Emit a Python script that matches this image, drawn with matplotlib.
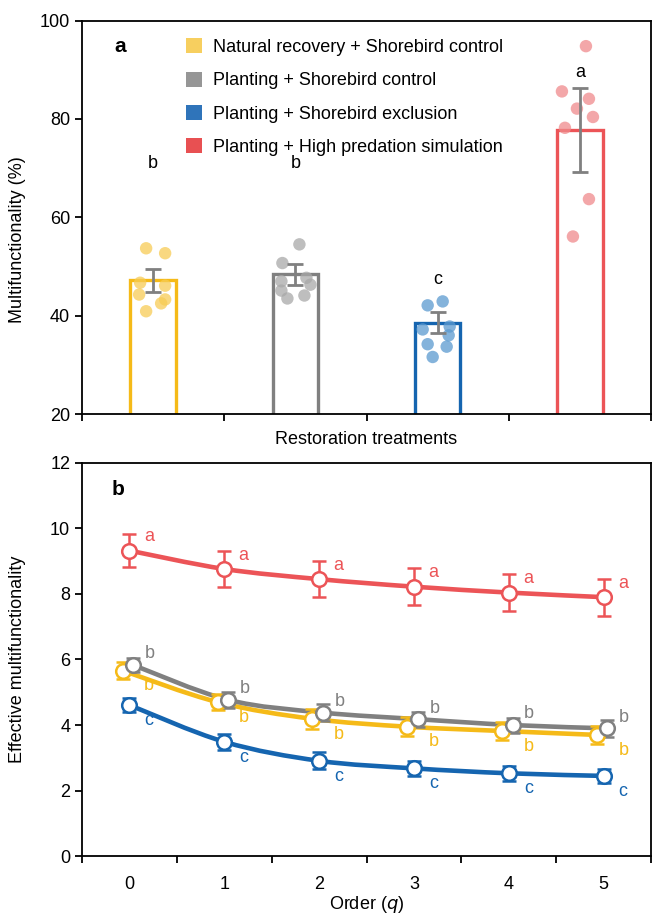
import numpy as np
import matplotlib.pyplot as plt
from matplotlib.patches import Patch, PathPatch
from matplotlib.path import Path

plt.rcParams['font.family'] = ['Liberation Sans', 'DejaVu Sans']

# ---- data: panel a ----
treatments = ['Natural recovery + Shorebird control',
              'Planting + Shorebird control',
              'Planting + Shorebird exclusion',
              'Planting + High predation simulation']
bar_means = [47.2, 48.4, 38.6, 77.7]
bar_se = [2.3, 2.2, 2.1, 8.5]
sig_a = ['b', 'b', 'c', 'a']
sig_a_y = [71.0, 71.0, 47.3, 89.5]
points_nat = [53.7, 52.7, 46.7, 46.1, 44.3, 43.3, 42.5, 40.9]
points_pl_ctrl = [54.5, 50.7, 47.0, 47.7, 46.3, 45.1, 43.5, 44.1]
points_pl_excl = [42.1, 42.9, 37.2, 37.8, 36.0, 34.2, 33.7, 31.6]
points_pl_pred = [94.8, 85.6, 84.1, 82.1, 80.4, 78.2, 63.7, 56.1]

# ---- data: panel b ----
orders = [0, 1, 2, 3, 4, 5]
eff_nat = [5.66, 4.70, 4.19, 3.95, 3.82, 3.70]
eff_nat_se = [0.25, 0.25, 0.30, 0.29, 0.28, 0.28]
eff_pl_ctrl = [5.83, 4.77, 4.38, 4.18, 4.00, 3.90]
eff_pl_ctrl_se = [0.22, 0.24, 0.26, 0.23, 0.23, 0.25]
eff_pl_excl = [4.61, 3.49, 2.91, 2.68, 2.53, 2.45]
eff_pl_excl_se = [0.22, 0.25, 0.26, 0.23, 0.23, 0.21]
eff_pl_pred = [9.32, 8.76, 8.45, 8.22, 8.04, 7.90]
eff_pl_pred_se = [0.51, 0.56, 0.55, 0.56, 0.56, 0.56]
sig_b = ['b', 'b', 'c', 'a']

# ---- style ----
edge_cols = ['#F5BA18', '#808080', '#1565B0', '#EC5457']
dot_cols = ['#F7CC55', '#A8A8A8', '#5B9AD0', '#F08A8C']
legend_cols = ['#F7CF5F', '#969696', '#2F74BA', '#E85052']
# horizontal jitter of the dots (pixels in the reference, 142 px per category)
jitter_px = [[-7, 12, -13, 12, -14, 12, 8, -7],
             [4, -13, -14, 11, 15, -14, -8, 9],
             [-10, 5, -15, 12, 11, -10, 9, -5],
             [6, -18, 9, -3, 13, -15, 9, -7]]
x_shift_b = [-0.07, 0.04, 0.0, 0.0]
label_off_b = [(19, -11), (12, 8), (14, -11), (14, 10)]
FS = 13


def smooth_path(xs, ys):
    # Excel-like smoothed line (cubic Bezier through the points)
    pts = np.column_stack([xs, ys]).astype(float)
    n = len(pts)
    verts = [pts[0]]
    codes = [Path.MOVETO]
    for i in range(n - 1):
        p0 = pts[i - 1] if i > 0 else pts[i]
        p1 = pts[i]
        p2 = pts[i + 1]
        p3 = pts[i + 2] if i + 2 < n else pts[i + 1]
        c1 = p1 + (p2 - p0) / 6.0
        c2 = p2 - (p3 - p1) / 6.0
        verts += [c1, c2, p2]
        codes += [Path.CURVE4] * 3
    return Path(verts, codes)


fig = plt.figure(figsize=(6.56, 9.15), dpi=100)
ax1 = fig.add_axes([0.125, 0.5475, 0.8675, 0.43])
ax2 = fig.add_axes([0.125, 0.0642, 0.8675, 0.4301])

# ---- panel a ----
xpos = np.arange(len(treatments))
ax1.bar(xpos, bar_means, width=0.32, bottom=0, facecolor='white',
        edgecolor=edge_cols, linewidth=2.4, zorder=2)
all_points = [points_nat, points_pl_ctrl, points_pl_excl, points_pl_pred]
for i, pts in enumerate(all_points):
    xs = i + np.array(jitter_px[i]) / 142.2
    ax1.scatter(xs, pts, s=80, color=dot_cols[i], alpha=0.75,
                edgecolors='none', zorder=3)
ax1.errorbar(xpos, bar_means, yerr=bar_se, fmt='none', ecolor='#808080',
             elinewidth=2, capsize=5.5, capthick=2, zorder=4)
for i, s in enumerate(sig_a):
    ax1.text(i, sig_a_y[i], s, ha='center', va='center', fontsize=FS)

ax1.set_xlim(-0.5, 3.5)
ax1.set_ylim(20, 100)
ax1.set_yticks([20, 40, 60, 80, 100])
ax1.set_xticks(np.arange(-0.5, 4.0, 1.0))
ax1.set_xticklabels([])
ax1.set_ylabel('Multifunctionality (%)', fontsize=FS)
ax1.yaxis.set_label_coords(-0.098, 0.443)
ax1.set_xlabel('Restoration treatments', fontsize=FS, labelpad=4)
ax1.text(0.067, 0.935, 'a', transform=ax1.transAxes, fontsize=15,
         fontweight='bold', ha='center', va='center')
handles = [Patch(facecolor=c, edgecolor='none') for c in legend_cols]
ax1.legend(handles, treatments, loc='upper left',
           bbox_to_anchor=(0.183, 0.955), frameon=False, fontsize=FS,
           handlelength=0.9, handleheight=0.9, handletextpad=0.6,
           labelspacing=0.86, borderpad=0, borderaxespad=0)

# ---- panel b ----
series = [(eff_nat, eff_nat_se), (eff_pl_ctrl, eff_pl_ctrl_se),
          (eff_pl_excl, eff_pl_excl_se), (eff_pl_pred, eff_pl_pred_se)]
draw_order = [1, 0, 2, 3]
for i in draw_order:
    vals, se = series[i]
    xs = np.array(orders) + x_shift_b[i]
    ax2.add_patch(PathPatch(smooth_path(xs, vals), facecolor='none',
                            edgecolor=edge_cols[i], linewidth=3.3,
                            capstyle='round', zorder=2 + i * 0.1))
    ax2.errorbar(xs, vals, yerr=se, fmt='o', color=edge_cols[i],
                 ecolor=edge_cols[i], elinewidth=1.8, capsize=5, capthick=1.8,
                 markersize=10.5, markerfacecolor='white',
                 markeredgecolor=edge_cols[i], markeredgewidth=1.8,
                 zorder=3 + i * 0.1)
    for x, v in zip(xs, vals):
        ax2.annotate(sig_b[i], (x, v), xytext=label_off_b[i],
                     textcoords='offset points', ha='center', va='center',
                     fontsize=FS, color=edge_cols[i])

ax2.set_xlim(-0.5, 5.5)
ax2.set_ylim(0, 12)
ax2.set_yticks(range(0, 13, 2))
ax2.set_xticks(orders)
ax2.set_xticks(np.arange(-0.5, 6.0, 1.0), minor=True)
ax2.tick_params(axis='x', which='major', length=0, pad=14)
ax2.tick_params(axis='x', which='minor', length=5, width=1.3, direction='out')
ax2.set_ylabel('Effective multifunctionality', fontsize=FS)
ax2.yaxis.set_label_coords(-0.098, 0.5)
ax2.set_xlabel('Order ($q$)', fontsize=FS, labelpad=1)
ax2.text(0.064, 0.932, 'b', transform=ax2.transAxes, fontsize=15,
         fontweight='bold', ha='center', va='center')

for ax in (ax1, ax2):
    for sp in ax.spines.values():
        sp.set_linewidth(1.3)
    ax.tick_params(axis='y', length=5, width=1.3, labelsize=FS)
    ax.tick_params(axis='x', labelsize=FS)
ax1.tick_params(axis='x', length=5, width=1.3)

fig.savefig('out.png', dpi=100)
